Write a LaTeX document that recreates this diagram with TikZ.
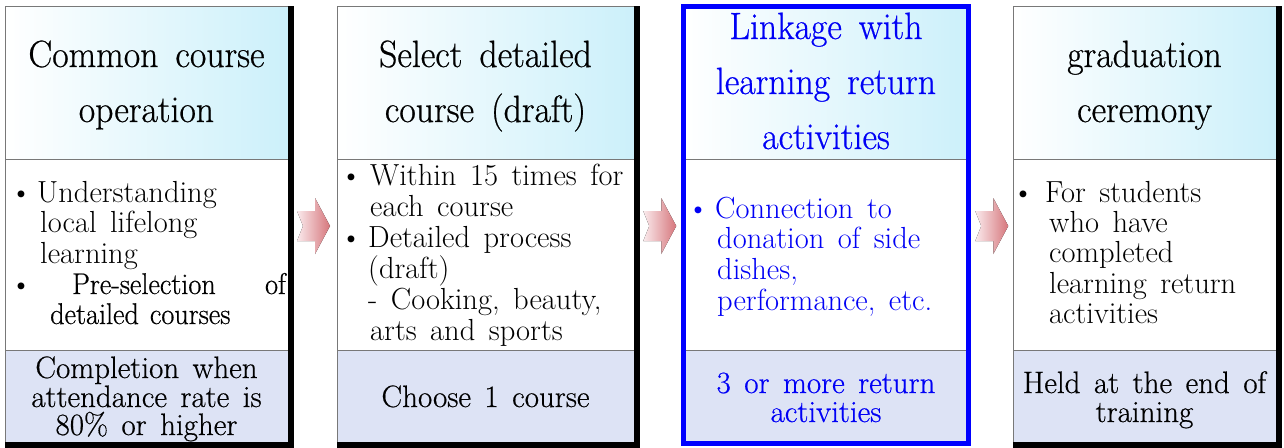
\documentclass[tikz,border=0pt]{standalone}
\usepackage{fontspec}
\newfontfamily\headfont{Latin Modern Roman}[FakeStretch=0.94, FakeBold=0.6]
\newfontfamily\footfont{Latin Modern Roman}[FakeBold=0.5]
\usetikzlibrary{calc}

\definecolor{hdrcyan}{RGB}{204,240,250}
\definecolor{footlav}{RGB}{221,227,245}
\definecolor{rulegray}{RGB}{120,120,120}
\definecolor{linkblue}{RGB}{0,0,245}
\definecolor{arrowlight}{RGB}{250,234,236}
\definecolor{arrowdark}{RGB}{214,118,124}

\newcommand\headsize{\headfont\fontsize{38}{40}\selectfont\spaceskip=17pt\relax}
\newcommand\bodysize{\fontsize{30.5}{31}\selectfont\spaceskip=13.5pt\relax}
\newcommand\narrowsize{\headfont\fontsize{30}{31}\selectfont\spaceskip=11pt\relax}
\newcommand\footsize{\footfont\fontsize{31}{29}\selectfont\spaceskip=13.5pt\relax}

\tikzset{
  part/.style={draw=rulegray, line width=0.8pt, anchor=north west, inner sep=0pt, outer sep=0pt},
  headpart/.style={part, left color=white, right color=hdrcyan},
  bodypart/.style={part, fill=white},
  footpart/.style={part, fill=footlav},
  heavyedge/.style={line width=5.5pt},
  blueframe/.style={draw=blue, line width=5pt},
  headtxt/.style={anchor=base, inner sep=0pt, font=\headsize},
  bodytxt/.style={anchor=base west, inner sep=0pt, font=\bodysize},
  narrowtxt/.style={anchor=base west, inner sep=0pt, font=\narrowsize},
  foottxt/.style={anchor=base, inner sep=0pt, font=\footsize},
  pics/notcharrow/.style={code={
    \fill[left color=arrowlight, right color=arrowdark]
      (-16.5,-15) -- (1.5,-15) -- (1.5,-28) -- (16.5,0) -- (1.5,28)
      -- (1.5,15) -- (-16.5,15) -- (-10.5,0) -- cycle;
  }}
}

\begin{document}
\begin{tikzpicture}[x=1pt,y=-1pt]
\useasboundingbox (0,0) rectangle (1284,447);

% ---- column 1: common course operation
\node[headpart, minimum width=283pt, minimum height=153pt] (c1h) at (5,6) {};
\node[bodypart, minimum width=283pt, minimum height=191pt] (c1b) at (5,159) {};
\node[footpart, minimum width=283pt, minimum height=92pt]  (c1f) at (5,350) {};
\draw[heavyedge] ([xshift=2.75pt]c1h.north east) |- ([yshift=-2.75pt]c1f.south west);

% ---- column 2: select detailed course
\node[headpart, minimum width=297pt, minimum height=153pt] (c2h) at (337,6) {};
\node[bodypart, minimum width=297pt, minimum height=191pt] (c2b) at (337,159) {};
\node[footpart, minimum width=297pt, minimum height=92pt]  (c2f) at (337,350) {};
\draw[heavyedge] ([xshift=2.75pt]c2h.north east) |- ([yshift=-2.75pt]c2f.south west);

% ---- column 3: linkage with learning return activities (highlighted)
\node[headpart, minimum width=285pt, minimum height=152.5pt] (c3h) at (683.5,6.5) {};
\node[bodypart, minimum width=285pt, minimum height=191pt]   (c3b) at (683.5,159) {};
\node[footpart, minimum width=285pt, minimum height=93.5pt]  (c3f) at (683.5,350) {};
\draw[blueframe] (c3h.north west) rectangle (c3f.south east);

% ---- column 4: graduation ceremony
\node[headpart, minimum width=263pt, minimum height=153pt] (c4h) at (1013,6) {};
\node[bodypart, minimum width=263pt, minimum height=191pt] (c4b) at (1013,159) {};
\node[footpart, minimum width=263pt, minimum height=92pt]  (c4f) at (1013,350) {};
\draw[heavyedge] ([xshift=2.75pt]c4h.north east) |- ([yshift=-2.75pt]c4f.south west);

% ---- arrows between the columns
\coordinate (a12) at ($(c1b.east)!0.5!(c2b.west)+(1,-28.5)$);
\coordinate (a23) at ($(c2b.east)!0.5!(c3b.west)+(1,-28.5)$);
\coordinate (a34) at ($(c3b.east)!0.5!(c4b.west)+(1,-28.5)$);
\pic at (a12) {notcharrow};
\pic at (a23) {notcharrow};
\pic at (a34) {notcharrow};

% ---- headings
\node[headtxt] (t1a) at (146.5,67)  {Common course};
\node[headtxt] (t1b) at (146.5,122) {operation};
\node[headtxt] (t2a) at (485.5,67)  {Select detailed};
\node[headtxt] (t2b) at (485.5,122) {course (draft)};
\node[headtxt, text=linkblue] (t3a) at (826,39)  {Linkage with};
\node[headtxt, text=linkblue] (t3b) at (826,94)  {learning return};
\node[headtxt, text=linkblue] (t3c) at (826,149) {activities};
\node[headtxt] (t4a) at (1144.5,67)  {graduation};
\node[headtxt] (t4b) at (1144.5,122) {ceremony};

% ---- body texts
\node[bodytxt] (b1d1) at (10,202) {\textbullet};
\node[bodytxt] (b1a) at (37,202) {Understanding};
\node[bodytxt] (b1b) at (40,232) {local lifelong};
\node[bodytxt] (b1c) at (40,263) {learning};
\node[bodytxt] (b1d2) at (10,294) {\textbullet};
\node[narrowtxt] (b1e) at (72,294) {Pre-selection};
\node[narrowtxt, anchor=base east] (b1f) at (286,294) {of};
\node[narrowtxt] (b1g) at (50,324) {detailed courses};

\node[bodytxt] (b2d1) at (340,185) {\textbullet};
\node[bodytxt] (b2a) at (370,185) {Within 15 times for};
\node[bodytxt] (b2b) at (370,216) {each course};
\node[bodytxt] (b2d2) at (340,247) {\textbullet};
\node[bodytxt] (b2c) at (368,247) {Detailed process};
\node[bodytxt] (b2e) at (368,278) {(draft)};
\node[bodytxt] (b2f) at (368,309) {- Cooking, beauty,};
\node[bodytxt] (b2g) at (370,340) {arts and sports};

\node[bodytxt, text=linkblue] (b3d) at (687,218) {\textbullet};
\node[bodytxt, text=linkblue] (b3a) at (715,218)   {Connection to};
\node[bodytxt, text=linkblue] (b3b) at (717,248.5) {donation of side};
\node[bodytxt, text=linkblue] (b3c) at (717,279)   {dishes,};
\node[bodytxt, text=linkblue] (b3e) at (717,310)   {performance, etc.};

\node[bodytxt] (b4d) at (1012,202) {\textbullet};
\node[bodytxt] (b4a) at (1045,202) {For students};
\node[bodytxt] (b4b) at (1049,232) {who have};
\node[bodytxt] (b4c) at (1049,262) {completed};
\node[bodytxt] (b4e) at (1049,293) {learning return};
\node[bodytxt] (b4f) at (1049,323) {activities};

% ---- footers
\node[foottxt] (f1a) at (146.5,378) {Completion when};
\node[foottxt] (f1b) at (146.5,407) {attendance rate is};
\node[foottxt] (f1c) at (146.5,435) {80\% or higher};
\node[foottxt] (f2a) at (485.5,407) {Choose 1 course};
\node[foottxt, text=linkblue] (f3a) at (826,393) {3 or more return};
\node[foottxt, text=linkblue] (f3b) at (826,422) {activities};
\node[foottxt] (f4a) at (1144.5,393) {Held at the end of};
\node[foottxt] (f4b) at (1144.5,422) {training};
\end{tikzpicture}
\end{document}
